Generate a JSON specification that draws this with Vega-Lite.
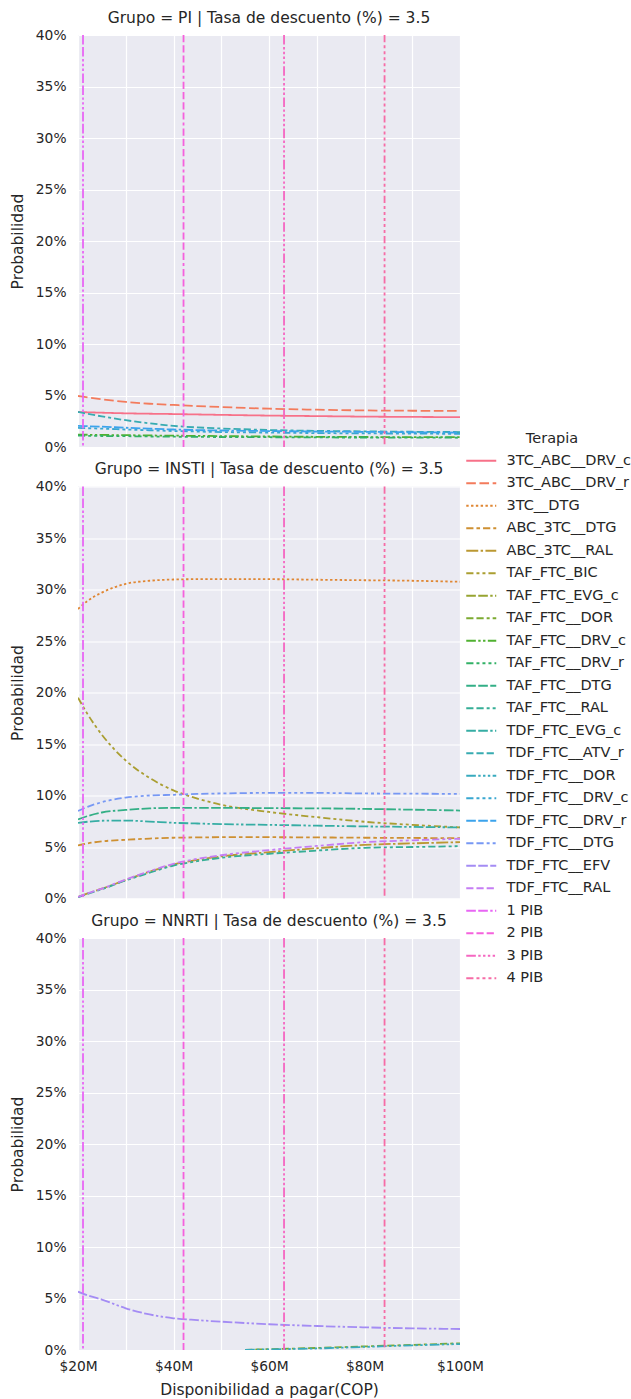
{
"$schema": "https://vega.github.io/schema/vega-lite/v6.json",
"background": "white",
"padding": {"left": 10, "top": 10, "right": 0, "bottom": 0},
"config": {
 "font": "DejaVu Sans",
 "view": {"fill": "#EAEAF2", "stroke": null},
 "axis": {"domain": false, "ticks": false, "gridColor": "#FFFFFF", "gridWidth": 1.2, "labelColor": "#262626", "titleColor": "#262626", "labelFontSize": 13.8, "titleFontSize": 15.5, "titleFontWeight": "normal"},
 "title": {"fontSize": 15.5, "fontWeight": "normal", "color": "#262626", "offset": 2},
 "concat": {"spacing": 7.5},
 "legend": {"titleFontSize": 14.5, "titleFontWeight": "normal", "titleColor": "#262626", "titleAnchor": "middle", "titlePadding": 7, "labelFontSize": 14.5, "labelColor": "#262626", "symbolType": "M-3,0H3", "symbolSize": 100, "symbolStrokeWidth": 1.8, "labelOffset": 18, "rowPadding": 7.5, "padding": 0}
},
"datasets": {
"pib": [
 {"t": "1 PIB", "x": 21.05},
 {"t": "2 PIB", "x": 42.1},
 {"t": "3 PIB", "x": 63.15},
 {"t": "4 PIB", "x": 84.2}
],
"d": [
 {"g":"PI","t":"3TC_ABC__DRV_c","x":20,"p":3.4},{"g":"PI","t":"3TC_ABC__DRV_c","x":22,"p":3.37},{"g":"PI","t":"3TC_ABC__DRV_c","x":25,"p":3.33},{"g":"PI","t":"3TC_ABC__DRV_c","x":30,"p":3.27},{"g":"PI","t":"3TC_ABC__DRV_c","x":35,"p":3.23},{"g":"PI","t":"3TC_ABC__DRV_c","x":40,"p":3.2},{"g":"PI","t":"3TC_ABC__DRV_c","x":45,"p":3.16},{"g":"PI","t":"3TC_ABC__DRV_c","x":50,"p":3.12},{"g":"PI","t":"3TC_ABC__DRV_c","x":60,"p":3.05},{"g":"PI","t":"3TC_ABC__DRV_c","x":70,"p":3.0},{"g":"PI","t":"3TC_ABC__DRV_c","x":80,"p":2.95},{"g":"PI","t":"3TC_ABC__DRV_c","x":90,"p":2.92},{"g":"PI","t":"3TC_ABC__DRV_c","x":100,"p":2.9},
 {"g":"PI","t":"3TC_ABC__DRV_r","x":20,"p":4.95},{"g":"PI","t":"3TC_ABC__DRV_r","x":22,"p":4.82},{"g":"PI","t":"3TC_ABC__DRV_r","x":25,"p":4.63},{"g":"PI","t":"3TC_ABC__DRV_r","x":30,"p":4.38},{"g":"PI","t":"3TC_ABC__DRV_r","x":35,"p":4.2},{"g":"PI","t":"3TC_ABC__DRV_r","x":40,"p":4.08},{"g":"PI","t":"3TC_ABC__DRV_r","x":45,"p":3.97},{"g":"PI","t":"3TC_ABC__DRV_r","x":50,"p":3.88},{"g":"PI","t":"3TC_ABC__DRV_r","x":60,"p":3.72},{"g":"PI","t":"3TC_ABC__DRV_r","x":70,"p":3.62},{"g":"PI","t":"3TC_ABC__DRV_r","x":80,"p":3.55},{"g":"PI","t":"3TC_ABC__DRV_r","x":90,"p":3.52},{"g":"PI","t":"3TC_ABC__DRV_r","x":100,"p":3.5},
 {"g":"PI","t":"TAF_FTC__DRV_c","x":20,"p":1.2},{"g":"PI","t":"TAF_FTC__DRV_c","x":22,"p":1.19},{"g":"PI","t":"TAF_FTC__DRV_c","x":25,"p":1.17},{"g":"PI","t":"TAF_FTC__DRV_c","x":30,"p":1.15},{"g":"PI","t":"TAF_FTC__DRV_c","x":35,"p":1.12},{"g":"PI","t":"TAF_FTC__DRV_c","x":40,"p":1.1},{"g":"PI","t":"TAF_FTC__DRV_c","x":45,"p":1.08},{"g":"PI","t":"TAF_FTC__DRV_c","x":50,"p":1.06},{"g":"PI","t":"TAF_FTC__DRV_c","x":60,"p":1.02},{"g":"PI","t":"TAF_FTC__DRV_c","x":70,"p":0.99},{"g":"PI","t":"TAF_FTC__DRV_c","x":80,"p":0.97},{"g":"PI","t":"TAF_FTC__DRV_c","x":90,"p":0.96},{"g":"PI","t":"TAF_FTC__DRV_c","x":100,"p":0.95},
 {"g":"PI","t":"TAF_FTC__DRV_r","x":20,"p":1.1},{"g":"PI","t":"TAF_FTC__DRV_r","x":22,"p":1.09},{"g":"PI","t":"TAF_FTC__DRV_r","x":25,"p":1.07},{"g":"PI","t":"TAF_FTC__DRV_r","x":30,"p":1.05},{"g":"PI","t":"TAF_FTC__DRV_r","x":35,"p":1.02},{"g":"PI","t":"TAF_FTC__DRV_r","x":40,"p":1.0},{"g":"PI","t":"TAF_FTC__DRV_r","x":45,"p":0.98},{"g":"PI","t":"TAF_FTC__DRV_r","x":50,"p":0.97},{"g":"PI","t":"TAF_FTC__DRV_r","x":60,"p":0.95},{"g":"PI","t":"TAF_FTC__DRV_r","x":70,"p":0.93},{"g":"PI","t":"TAF_FTC__DRV_r","x":80,"p":0.92},{"g":"PI","t":"TAF_FTC__DRV_r","x":90,"p":0.91},{"g":"PI","t":"TAF_FTC__DRV_r","x":100,"p":0.9},
 {"g":"PI","t":"TDF_FTC__ATV_r","x":20,"p":3.4},{"g":"PI","t":"TDF_FTC__ATV_r","x":22,"p":3.22},{"g":"PI","t":"TDF_FTC__ATV_r","x":25,"p":2.97},{"g":"PI","t":"TDF_FTC__ATV_r","x":30,"p":2.6},{"g":"PI","t":"TDF_FTC__ATV_r","x":35,"p":2.3},{"g":"PI","t":"TDF_FTC__ATV_r","x":40,"p":2.05},{"g":"PI","t":"TDF_FTC__ATV_r","x":45,"p":1.9},{"g":"PI","t":"TDF_FTC__ATV_r","x":50,"p":1.8},{"g":"PI","t":"TDF_FTC__ATV_r","x":60,"p":1.65},{"g":"PI","t":"TDF_FTC__ATV_r","x":70,"p":1.57},{"g":"PI","t":"TDF_FTC__ATV_r","x":80,"p":1.52},{"g":"PI","t":"TDF_FTC__ATV_r","x":90,"p":1.48},{"g":"PI","t":"TDF_FTC__ATV_r","x":100,"p":1.45},
 {"g":"PI","t":"TDF_FTC__DRV_c","x":20,"p":1.85},{"g":"PI","t":"TDF_FTC__DRV_c","x":22,"p":1.82},{"g":"PI","t":"TDF_FTC__DRV_c","x":25,"p":1.78},{"g":"PI","t":"TDF_FTC__DRV_c","x":30,"p":1.7},{"g":"PI","t":"TDF_FTC__DRV_c","x":35,"p":1.62},{"g":"PI","t":"TDF_FTC__DRV_c","x":40,"p":1.55},{"g":"PI","t":"TDF_FTC__DRV_c","x":45,"p":1.5},{"g":"PI","t":"TDF_FTC__DRV_c","x":50,"p":1.45},{"g":"PI","t":"TDF_FTC__DRV_c","x":60,"p":1.4},{"g":"PI","t":"TDF_FTC__DRV_c","x":70,"p":1.35},{"g":"PI","t":"TDF_FTC__DRV_c","x":80,"p":1.32},{"g":"PI","t":"TDF_FTC__DRV_c","x":90,"p":1.3},{"g":"PI","t":"TDF_FTC__DRV_c","x":100,"p":1.28},
 {"g":"PI","t":"TDF_FTC__DRV_r","x":20,"p":2.05},{"g":"PI","t":"TDF_FTC__DRV_r","x":22,"p":2.02},{"g":"PI","t":"TDF_FTC__DRV_r","x":25,"p":1.97},{"g":"PI","t":"TDF_FTC__DRV_r","x":30,"p":1.87},{"g":"PI","t":"TDF_FTC__DRV_r","x":35,"p":1.78},{"g":"PI","t":"TDF_FTC__DRV_r","x":40,"p":1.7},{"g":"PI","t":"TDF_FTC__DRV_r","x":45,"p":1.64},{"g":"PI","t":"TDF_FTC__DRV_r","x":50,"p":1.6},{"g":"PI","t":"TDF_FTC__DRV_r","x":60,"p":1.55},{"g":"PI","t":"TDF_FTC__DRV_r","x":70,"p":1.5},{"g":"PI","t":"TDF_FTC__DRV_r","x":80,"p":1.47},{"g":"PI","t":"TDF_FTC__DRV_r","x":90,"p":1.43},{"g":"PI","t":"TDF_FTC__DRV_r","x":100,"p":1.4},
 {"g":"INSTI","t":"3TC__DTG","x":20,"p":28.1},{"g":"INSTI","t":"3TC__DTG","x":22,"p":28.9},{"g":"INSTI","t":"3TC__DTG","x":25,"p":29.7},{"g":"INSTI","t":"3TC__DTG","x":30,"p":30.55},{"g":"INSTI","t":"3TC__DTG","x":35,"p":30.85},{"g":"INSTI","t":"3TC__DTG","x":40,"p":30.97},{"g":"INSTI","t":"3TC__DTG","x":45,"p":31.0},{"g":"INSTI","t":"3TC__DTG","x":50,"p":31.0},{"g":"INSTI","t":"3TC__DTG","x":60,"p":31.0},{"g":"INSTI","t":"3TC__DTG","x":70,"p":30.95},{"g":"INSTI","t":"3TC__DTG","x":80,"p":30.9},{"g":"INSTI","t":"3TC__DTG","x":90,"p":30.85},{"g":"INSTI","t":"3TC__DTG","x":100,"p":30.75},
 {"g":"INSTI","t":"ABC_3TC__DTG","x":20,"p":5.15},{"g":"INSTI","t":"ABC_3TC__DTG","x":22,"p":5.35},{"g":"INSTI","t":"ABC_3TC__DTG","x":25,"p":5.55},{"g":"INSTI","t":"ABC_3TC__DTG","x":30,"p":5.7},{"g":"INSTI","t":"ABC_3TC__DTG","x":35,"p":5.82},{"g":"INSTI","t":"ABC_3TC__DTG","x":40,"p":5.9},{"g":"INSTI","t":"ABC_3TC__DTG","x":45,"p":5.93},{"g":"INSTI","t":"ABC_3TC__DTG","x":50,"p":5.95},{"g":"INSTI","t":"ABC_3TC__DTG","x":60,"p":5.95},{"g":"INSTI","t":"ABC_3TC__DTG","x":70,"p":5.93},{"g":"INSTI","t":"ABC_3TC__DTG","x":80,"p":5.9},{"g":"INSTI","t":"ABC_3TC__DTG","x":90,"p":5.88},{"g":"INSTI","t":"ABC_3TC__DTG","x":100,"p":5.85},
 {"g":"INSTI","t":"ABC_3TC__RAL","x":20,"p":0.15},{"g":"INSTI","t":"ABC_3TC__RAL","x":22,"p":0.5},{"g":"INSTI","t":"ABC_3TC__RAL","x":25,"p":0.95},{"g":"INSTI","t":"ABC_3TC__RAL","x":30,"p":1.8},{"g":"INSTI","t":"ABC_3TC__RAL","x":35,"p":2.6},{"g":"INSTI","t":"ABC_3TC__RAL","x":40,"p":3.3},{"g":"INSTI","t":"ABC_3TC__RAL","x":45,"p":3.75},{"g":"INSTI","t":"ABC_3TC__RAL","x":50,"p":4.08},{"g":"INSTI","t":"ABC_3TC__RAL","x":60,"p":4.5},{"g":"INSTI","t":"ABC_3TC__RAL","x":70,"p":4.88},{"g":"INSTI","t":"ABC_3TC__RAL","x":80,"p":5.2},{"g":"INSTI","t":"ABC_3TC__RAL","x":90,"p":5.35},{"g":"INSTI","t":"ABC_3TC__RAL","x":100,"p":5.47},
 {"g":"INSTI","t":"TAF_FTC_BIC","x":20,"p":19.5},{"g":"INSTI","t":"TAF_FTC_BIC","x":22,"p":17.9},{"g":"INSTI","t":"TAF_FTC_BIC","x":25,"p":15.9},{"g":"INSTI","t":"TAF_FTC_BIC","x":30,"p":13.4},{"g":"INSTI","t":"TAF_FTC_BIC","x":35,"p":11.7},{"g":"INSTI","t":"TAF_FTC_BIC","x":40,"p":10.5},{"g":"INSTI","t":"TAF_FTC_BIC","x":45,"p":9.7},{"g":"INSTI","t":"TAF_FTC_BIC","x":50,"p":9.1},{"g":"INSTI","t":"TAF_FTC_BIC","x":60,"p":8.4},{"g":"INSTI","t":"TAF_FTC_BIC","x":70,"p":7.9},{"g":"INSTI","t":"TAF_FTC_BIC","x":80,"p":7.45},{"g":"INSTI","t":"TAF_FTC_BIC","x":90,"p":7.15},{"g":"INSTI","t":"TAF_FTC_BIC","x":100,"p":6.9},
 {"g":"INSTI","t":"TAF_FTC__DTG","x":20,"p":7.67},{"g":"INSTI","t":"TAF_FTC__DTG","x":22,"p":8.0},{"g":"INSTI","t":"TAF_FTC__DTG","x":25,"p":8.35},{"g":"INSTI","t":"TAF_FTC__DTG","x":30,"p":8.6},{"g":"INSTI","t":"TAF_FTC__DTG","x":35,"p":8.75},{"g":"INSTI","t":"TAF_FTC__DTG","x":40,"p":8.8},{"g":"INSTI","t":"TAF_FTC__DTG","x":45,"p":8.8},{"g":"INSTI","t":"TAF_FTC__DTG","x":50,"p":8.8},{"g":"INSTI","t":"TAF_FTC__DTG","x":60,"p":8.77},{"g":"INSTI","t":"TAF_FTC__DTG","x":70,"p":8.75},{"g":"INSTI","t":"TAF_FTC__DTG","x":80,"p":8.7},{"g":"INSTI","t":"TAF_FTC__DTG","x":90,"p":8.62},{"g":"INSTI","t":"TAF_FTC__DTG","x":100,"p":8.54},
 {"g":"INSTI","t":"TAF_FTC__RAL","x":20,"p":0.12},{"g":"INSTI","t":"TAF_FTC__RAL","x":22,"p":0.45},{"g":"INSTI","t":"TAF_FTC__RAL","x":25,"p":0.9},{"g":"INSTI","t":"TAF_FTC__RAL","x":30,"p":1.75},{"g":"INSTI","t":"TAF_FTC__RAL","x":35,"p":2.5},{"g":"INSTI","t":"TAF_FTC__RAL","x":40,"p":3.2},{"g":"INSTI","t":"TAF_FTC__RAL","x":45,"p":3.62},{"g":"INSTI","t":"TAF_FTC__RAL","x":50,"p":3.95},{"g":"INSTI","t":"TAF_FTC__RAL","x":60,"p":4.34},{"g":"INSTI","t":"TAF_FTC__RAL","x":70,"p":4.65},{"g":"INSTI","t":"TAF_FTC__RAL","x":80,"p":4.92},{"g":"INSTI","t":"TAF_FTC__RAL","x":90,"p":5.0},{"g":"INSTI","t":"TAF_FTC__RAL","x":100,"p":5.08},
 {"g":"INSTI","t":"TDF_FTC_EVG_c","x":20,"p":7.35},{"g":"INSTI","t":"TDF_FTC_EVG_c","x":22,"p":7.45},{"g":"INSTI","t":"TDF_FTC_EVG_c","x":25,"p":7.55},{"g":"INSTI","t":"TDF_FTC_EVG_c","x":30,"p":7.57},{"g":"INSTI","t":"TDF_FTC_EVG_c","x":35,"p":7.47},{"g":"INSTI","t":"TDF_FTC_EVG_c","x":40,"p":7.35},{"g":"INSTI","t":"TDF_FTC_EVG_c","x":45,"p":7.28},{"g":"INSTI","t":"TDF_FTC_EVG_c","x":50,"p":7.22},{"g":"INSTI","t":"TDF_FTC_EVG_c","x":60,"p":7.15},{"g":"INSTI","t":"TDF_FTC_EVG_c","x":70,"p":7.07},{"g":"INSTI","t":"TDF_FTC_EVG_c","x":80,"p":7.0},{"g":"INSTI","t":"TDF_FTC_EVG_c","x":90,"p":6.95},{"g":"INSTI","t":"TDF_FTC_EVG_c","x":100,"p":6.9},
 {"g":"INSTI","t":"TDF_FTC__DTG","x":20,"p":8.5},{"g":"INSTI","t":"TDF_FTC__DTG","x":22,"p":8.9},{"g":"INSTI","t":"TDF_FTC__DTG","x":25,"p":9.35},{"g":"INSTI","t":"TDF_FTC__DTG","x":30,"p":9.8},{"g":"INSTI","t":"TDF_FTC__DTG","x":35,"p":10.0},{"g":"INSTI","t":"TDF_FTC__DTG","x":40,"p":10.07},{"g":"INSTI","t":"TDF_FTC__DTG","x":45,"p":10.15},{"g":"INSTI","t":"TDF_FTC__DTG","x":50,"p":10.2},{"g":"INSTI","t":"TDF_FTC__DTG","x":60,"p":10.25},{"g":"INSTI","t":"TDF_FTC__DTG","x":70,"p":10.25},{"g":"INSTI","t":"TDF_FTC__DTG","x":80,"p":10.2},{"g":"INSTI","t":"TDF_FTC__DTG","x":90,"p":10.18},{"g":"INSTI","t":"TDF_FTC__DTG","x":100,"p":10.15},
 {"g":"INSTI","t":"TDF_FTC__RAL","x":20,"p":0.15},{"g":"INSTI","t":"TDF_FTC__RAL","x":22,"p":0.5},{"g":"INSTI","t":"TDF_FTC__RAL","x":25,"p":0.95},{"g":"INSTI","t":"TDF_FTC__RAL","x":30,"p":1.85},{"g":"INSTI","t":"TDF_FTC__RAL","x":35,"p":2.65},{"g":"INSTI","t":"TDF_FTC__RAL","x":40,"p":3.37},{"g":"INSTI","t":"TDF_FTC__RAL","x":45,"p":3.85},{"g":"INSTI","t":"TDF_FTC__RAL","x":50,"p":4.2},{"g":"INSTI","t":"TDF_FTC__RAL","x":60,"p":4.7},{"g":"INSTI","t":"TDF_FTC__RAL","x":70,"p":5.1},{"g":"INSTI","t":"TDF_FTC__RAL","x":80,"p":5.47},{"g":"INSTI","t":"TDF_FTC__RAL","x":90,"p":5.65},{"g":"INSTI","t":"TDF_FTC__RAL","x":100,"p":5.8},
 {"g":"NNRTI","t":"TAF_FTC__DOR","x":55,"p":0.02},{"g":"NNRTI","t":"TAF_FTC__DOR","x":60,"p":0.08},{"g":"NNRTI","t":"TAF_FTC__DOR","x":70,"p":0.2},{"g":"NNRTI","t":"TAF_FTC__DOR","x":80,"p":0.35},{"g":"NNRTI","t":"TAF_FTC__DOR","x":90,"p":0.5},{"g":"NNRTI","t":"TAF_FTC__DOR","x":100,"p":0.65},
 {"g":"NNRTI","t":"TDF_FTC__DOR","x":55,"p":0.02},{"g":"NNRTI","t":"TDF_FTC__DOR","x":60,"p":0.06},{"g":"NNRTI","t":"TDF_FTC__DOR","x":70,"p":0.15},{"g":"NNRTI","t":"TDF_FTC__DOR","x":80,"p":0.3},{"g":"NNRTI","t":"TDF_FTC__DOR","x":90,"p":0.45},{"g":"NNRTI","t":"TDF_FTC__DOR","x":100,"p":0.58},
 {"g":"NNRTI","t":"TDF_FTC__EFV","x":20,"p":5.66},{"g":"NNRTI","t":"TDF_FTC__EFV","x":22,"p":5.3},{"g":"NNRTI","t":"TDF_FTC__EFV","x":25,"p":4.9},{"g":"NNRTI","t":"TDF_FTC__EFV","x":30,"p":4.05},{"g":"NNRTI","t":"TDF_FTC__EFV","x":35,"p":3.45},{"g":"NNRTI","t":"TDF_FTC__EFV","x":40,"p":3.08},{"g":"NNRTI","t":"TDF_FTC__EFV","x":45,"p":2.9},{"g":"NNRTI","t":"TDF_FTC__EFV","x":50,"p":2.75},{"g":"NNRTI","t":"TDF_FTC__EFV","x":60,"p":2.5},{"g":"NNRTI","t":"TDF_FTC__EFV","x":70,"p":2.33},{"g":"NNRTI","t":"TDF_FTC__EFV","x":80,"p":2.2},{"g":"NNRTI","t":"TDF_FTC__EFV","x":90,"p":2.1},{"g":"NNRTI","t":"TDF_FTC__EFV","x":100,"p":2.04}
]
},
"vconcat": [
 {
  "title": "Grupo = PI | Tasa de descuento (%) = 3.5",
  "width": 382, "height": 412,
  "layer": [
   {
    "data": {"name": "d"},
    "transform": [{"filter": "datum.g === 'PI'"}],
    "mark": {"type": "line", "strokeWidth": 1.8, "interpolate": "monotone", "clip": true},
    "encoding": {
     "x": {"field": "x", "type": "quantitative", "scale": {"domain": [20, 100], "nice": false, "zero": false}, "axis": {"values": [20,30,40,50,60,70,80,90,100], "labels": false, "title": null}},
     "y": {"field": "p", "type": "quantitative", "scale": {"domain": [0, 40], "nice": false}, "axis": {"values": [0,5,10,15,20,25,30,35,40], "labelExpr": "datum.value + '%'", "title": "Probabilidad", "labelPadding": 12, "titlePadding": 10}},
     "color": {"field": "t", "type": "nominal", "title": "Terapia", "scale": {"domain": ["3TC_ABC__DRV_c","3TC_ABC__DRV_r","3TC__DTG","ABC_3TC__DTG","ABC_3TC__RAL","TAF_FTC_BIC","TAF_FTC_EVG_c","TAF_FTC__DOR","TAF_FTC__DRV_c","TAF_FTC__DRV_r","TAF_FTC__DTG","TAF_FTC__RAL","TDF_FTC_EVG_c","TDF_FTC__ATV_r","TDF_FTC__DOR","TDF_FTC__DRV_c","TDF_FTC__DRV_r","TDF_FTC__DTG","TDF_FTC__EFV","TDF_FTC__RAL","1 PIB","2 PIB","3 PIB","4 PIB"], "range": ["#f77189","#f37b5c","#e08632","#ce9032","#bb9832","#aa9e31","#97a431","#7caa31","#50b131","#32b166","#33af86","#35ae96","#36ada4","#37abb1","#38aabe","#39a7d0","#3ba3ec","#7798f4","#a48cf4","#c57df4","#e866f4","#f561dd","#f567c1","#f66ca6"]}, "legend": {"orient": "none", "legendX": 396, "legendY": 397}},
     "strokeDash": {"field": "t", "type": "nominal", "title": "Terapia", "scale": {"domain": ["3TC_ABC__DRV_c","3TC_ABC__DRV_r","3TC__DTG","ABC_3TC__DTG","ABC_3TC__RAL","TAF_FTC_BIC","TAF_FTC_EVG_c","TAF_FTC__DOR","TAF_FTC__DRV_c","TAF_FTC__DRV_r","TAF_FTC__DTG","TAF_FTC__RAL","TDF_FTC_EVG_c","TDF_FTC__ATV_r","TDF_FTC__DOR","TDF_FTC__DRV_c","TDF_FTC__DRV_r","TDF_FTC__DTG","TDF_FTC__EFV","TDF_FTC__RAL","1 PIB","2 PIB","3 PIB","4 PIB"], "range": [[1,0],[9.6,3.6],[2.4,2.4],[7.2,3,3.6,3],[12,2.4,2.4,2.4],[7.2,3,3,3,3,3],[9.6,2.4,9.6,2.4,2.4,2.4],[7.2,3,7.2,3,3,3],[9.6,2.4,2.4,2.4,2.4,2.4],[7.2,3,3,3,3,3,3,3],[9.6,2.4,9.6,2.4,9.6,2.4,2.4,2.4],[7.2,3,7.2,3,3,3,3,3],[9.6,2.4,9.6,2.4,2.4,2.4,2.4,2.4],[7.2,3,7.2,3,7.2,3,3,3],[9.6,2.4,2.4,2.4,2.4,2.4,2.4,2.4],[7.2,3,3,3,3,3,3,3,3,3],[9.6,2.4,9.6,2.4,9.6,2.4,9.6,2.4,2.4,2.4],[7.2,3,7.2,3,3,3,3,3,3,3],[9.6,2.4,9.6,2.4,9.6,2.4,2.4,2.4,2.4,2.4],[7.2,3,7.2,3,7.2,3,3,3,3,3],[9.6,2.4,9.6,2.4,2.4,2.4,2.4,2.4,2.4,2.4],[7.2,3,7.2,3,7.2,3,7.2,3,3,3],[9.6,2.4,2.4,2.4,2.4,2.4,2.4,2.4,2.4,2.4],[7.2,3,3,3,3,3,3,3,3,3,3,3]]}, "legend": {"orient": "none", "legendX": 396, "legendY": 397}}
    }
   },
   {
    "data": {"name": "pib"},
    "mark": {"type": "rule", "strokeWidth": 1.8},
    "encoding": {
     "x": {"field": "x", "type": "quantitative"},
     "color": {"field": "t", "type": "nominal", "title": "Terapia"},
     "strokeDash": {"field": "t", "type": "nominal", "title": "Terapia"}
    }
   }
  ]
 },
 {
  "title": "Grupo = INSTI | Tasa de descuento (%) = 3.5",
  "width": 382, "height": 412,
  "layer": [
   {
    "data": {"name": "d"},
    "transform": [{"filter": "datum.g === 'INSTI'"}],
    "mark": {"type": "line", "strokeWidth": 1.8, "interpolate": "monotone", "clip": true},
    "encoding": {
     "x": {"field": "x", "type": "quantitative", "scale": {"domain": [20, 100], "nice": false, "zero": false}, "axis": {"values": [20,30,40,50,60,70,80,90,100], "labels": false, "title": null}},
     "y": {"field": "p", "type": "quantitative", "scale": {"domain": [0, 40], "nice": false}, "axis": {"values": [0,5,10,15,20,25,30,35,40], "labelExpr": "datum.value + '%'", "title": "Probabilidad", "labelPadding": 12, "titlePadding": 10}},
     "color": {"field": "t", "type": "nominal", "title": "Terapia"},
     "strokeDash": {"field": "t", "type": "nominal", "title": "Terapia"}
    }
   },
   {
    "data": {"name": "pib"},
    "mark": {"type": "rule", "strokeWidth": 1.8},
    "encoding": {
     "x": {"field": "x", "type": "quantitative"},
     "color": {"field": "t", "type": "nominal", "title": "Terapia"},
     "strokeDash": {"field": "t", "type": "nominal", "title": "Terapia"}
    }
   }
  ]
 },
 {
  "title": "Grupo = NNRTI | Tasa de descuento (%) = 3.5",
  "width": 382, "height": 412,
  "layer": [
   {
    "data": {"name": "d"},
    "transform": [{"filter": "datum.g === 'NNRTI'"}],
    "mark": {"type": "line", "strokeWidth": 1.8, "interpolate": "monotone", "clip": true},
    "encoding": {
     "x": {"field": "x", "type": "quantitative", "scale": {"domain": [20, 100], "nice": false, "zero": false}, "axis": {"values": [20,30,40,50,60,70,80,90,100], "labelExpr": "datum.value % 20 === 0 ? '$' + datum.value + 'M' : ''", "labelFlush": false, "title": "Disponibilidad a pagar(COP)", "labelPadding": 9, "titlePadding": 10}},
     "y": {"field": "p", "type": "quantitative", "scale": {"domain": [0, 40], "nice": false}, "axis": {"values": [0,5,10,15,20,25,30,35,40], "labelExpr": "datum.value + '%'", "title": "Probabilidad", "labelPadding": 12, "titlePadding": 10}},
     "color": {"field": "t", "type": "nominal", "title": "Terapia"},
     "strokeDash": {"field": "t", "type": "nominal", "title": "Terapia"}
    }
   },
   {
    "data": {"name": "pib"},
    "mark": {"type": "rule", "strokeWidth": 1.8},
    "encoding": {
     "x": {"field": "x", "type": "quantitative"},
     "color": {"field": "t", "type": "nominal", "title": "Terapia"},
     "strokeDash": {"field": "t", "type": "nominal", "title": "Terapia"}
    }
   }
  ]
 }
]
}
